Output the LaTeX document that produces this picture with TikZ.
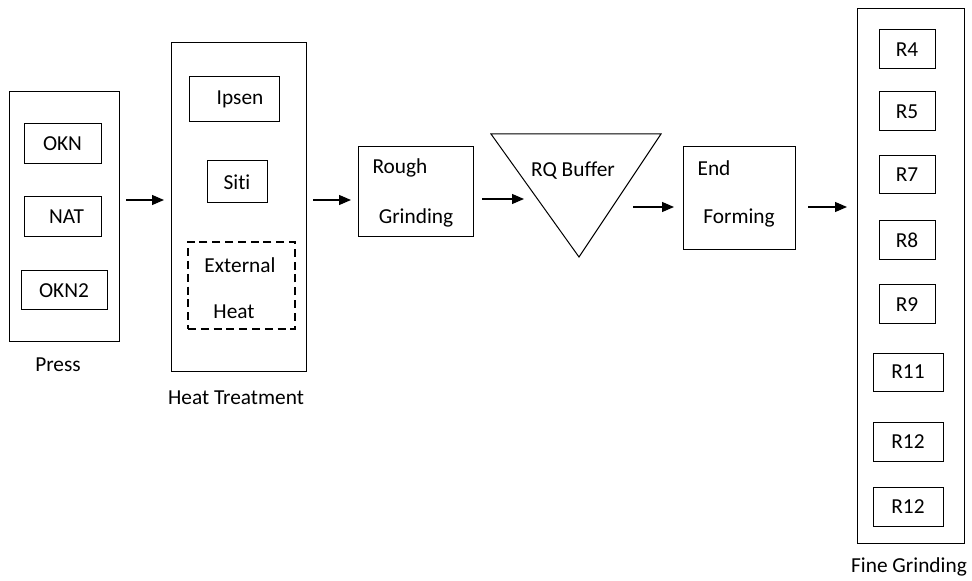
\documentclass[tikz,border=0pt]{standalone}
\usepackage{fontspec}
\setmainfont{Carlito}[Ligatures=NoCommon]
\usetikzlibrary{arrows.meta,positioning}

\begin{document}
\begin{tikzpicture}[x=0.75pt, y=-0.75pt, >={Triangle[length=9pt,width=7.5pt]},
  font=\fontsize{16}{19}\selectfont,
  outer/.style={draw, line width=0.75pt, inner sep=0pt},
  box/.style={draw, line width=0.75pt, inner sep=0pt},
  dbox/.style={draw, line width=1.5pt, dash pattern=on 6pt off 3.6pt, inner sep=0pt},
  lbl/.style={inner sep=1pt},
  flow/.style={->, line width=0.9pt}
]
\useasboundingbox (0,0) rectangle (972,581);
% press
\node[outer, minimum width=82.5pt, minimum height=186.75pt] (press) at (64,216.5) {};
\node[box, minimum width=57.75pt, minimum height=30pt] (okn) at (62.5,144) {OKN};
\node[box, minimum width=57.75pt, minimum height=30pt] (nat) at (62.5,217) {\hspace*{6pt}NAT};
\node[box, minimum width=64.5pt, minimum height=29.25pt] (okn2) at (64,290.5) {OKN2};
\node[lbl] (presst) at (58,365) {Press};
% heat treatment
\node[outer, minimum width=101.25pt, minimum height=246pt] (heat) at (238.5,207) {};
\node[box, minimum width=67.5pt, minimum height=33.75pt] (ipsen) at (234,99.5) {\hspace*{9pt}Ipsen};
\node[box, minimum width=45pt, minimum height=31.5pt] (siti) at (237,182) {Siti};
\node[dbox, minimum width=80.25pt, minimum height=65.25pt] (ext) at (241.5,285.5) {};
\node[lbl] (ext1) at (240,265) {External};
\node[lbl] (ext2) at (234,312) {Heat};
\node[lbl] (heatt) at (236,398) {Heat Treatment};
% rough grinding
\node[box, minimum width=86.25pt, minimum height=67.5pt] (rough) at (415.5,192) {};
\node[lbl] (rough1) at (400,168) {Rough};
\node[lbl] (rough2) at (416,218) {Grinding};
% RQ buffer
\coordinate (bufa) at (491,134);
\coordinate (bufb) at (661,134);
\coordinate (bufc) at (579,257);
\draw[line width=0.75pt] (bufa) -- (bufb) -- (bufc) -- cycle;
\node[lbl] (buf) at (573,171) {RQ Buffer};
% end forming
\node[box, minimum width=84pt, minimum height=77.25pt] (endf) at (739,198.5) {};
\node[lbl] (endf1) at (714,168) {End};
\node[lbl] (endf2) at (739,218) {Forming};
% fine grinding
\node[outer, minimum width=80.25pt, minimum height=400.5pt] (fine) at (910.5,276) {};
\node[box, minimum width=42pt, minimum height=29.25pt] (r4) at (907,49.5) {R4};
\node[box, minimum width=42pt, minimum height=29.25pt] (r5) at (907,111.5) {R5};
\node[box, minimum width=42pt, minimum height=28.5pt] (r7) at (907,175) {R7};
\node[box, minimum width=42pt, minimum height=29.25pt] (r8) at (907,240.5) {R8};
\node[box, minimum width=42pt, minimum height=29.25pt] (r9) at (907,304.5) {R9};
\node[box, minimum width=52.5pt, minimum height=28.5pt] (r11) at (908,372) {R11};
\node[box, minimum width=52.5pt, minimum height=29.25pt] (r12) at (908,441.5) {R12};
\node[box, minimum width=52.5pt, minimum height=29.25pt] (r12b) at (908,506.5) {R12};
\node[lbl] (finet) at (909,567) {Fine Grinding};
% arrows
\coordinate (a1) at (126,200); \coordinate (b1) at (164,200);
\coordinate (a2) at (313,200); \coordinate (b2) at (351,200);
\coordinate (a3) at (482,199); \coordinate (b3) at (524,199);
\coordinate (a4) at (633,207); \coordinate (b4) at (674,207);
\coordinate (a5) at (808,207); \coordinate (b5) at (847,207);
\foreach \s/\t in {a1/b1,a2/b2,a3/b3,a4/b4,a5/b5}
  \draw[flow] (\s) -- (\t);
\end{tikzpicture}
\end{document}
